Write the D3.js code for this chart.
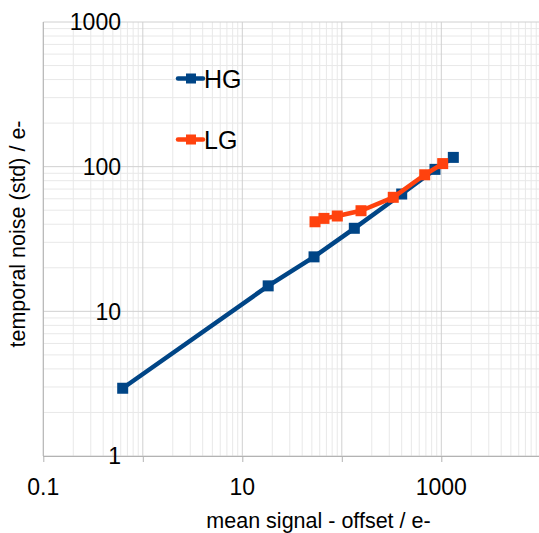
<!DOCTYPE html>
<html>
<head>
<meta charset="utf-8">
<script src="https://cdn.jsdelivr.net/npm/d3@7"></script>
<style>
  html, body { margin: 0; padding: 0; background: #ffffff; }
  svg { display: block; }
  text { font-family: "Liberation Sans", Arial, sans-serif; fill: #000; }
</style>
</head>
<body>
<svg id="chart" width="539" height="533"></svg>
<script>
// ---- data ----
const hgX = [0.628, 18.2, 52.6, 133.6, 400, 864, 1321];
const hgY = [2.94, 15.0, 23.8, 37.5, 64.7, 95.8, 115.9];
const lgX = [53.8, 66.2, 90.1, 156, 329, 681, 1033];
const lgY = [41.6, 43.9, 45.6, 49.6, 61.4, 87.9, 105];
const seriesNames = ["HG", "LG"];
const seriesColors = ["#004586", "#ff420e"];
const xTickLabels = [0.1, 10, 1000];
const yTickLabels = [1, 10, 100, 1000];
const xTitle = "mean signal - offset / e-";
const yTitle = "temporal noise (std) / e-";

(function () {
// ---- layout ----
const W = 539, H = 533;
const pLeft = 43.3, pRight = 540.8, pTop = 22, pBottom = 456;

const svg = d3.select("#chart");
svg.append("rect").attr("width", W).attr("height", H).attr("fill", "#fff");

const x = d3.scaleLog().domain([0.1, 10000]).range([pLeft, pRight]);
const y = d3.scaleLog().domain([1, 1000]).range([pBottom, pTop]);

// gridlines
const minorX = [], majorX = [];
for (let e = -1; e <= 4; e++) {
  majorX.push(Math.pow(10, e));
  if (e < 4) for (let m = 2; m <= 9; m++) minorX.push(m * Math.pow(10, e));
}
const minorY = [], majorY = [];
for (let e = 0; e <= 3; e++) {
  majorY.push(Math.pow(10, e));
  if (e < 3) for (let m = 2; m <= 9; m++) minorY.push(m * Math.pow(10, e));
}
const grid = svg.append("g");
grid.selectAll(".mx").data(minorX).enter().append("line")
  .attr("x1", d => x(d)).attr("x2", d => x(d)).attr("y1", pTop).attr("y2", pBottom)
  .attr("stroke", "#e8e8e8").attr("stroke-width", 1);
grid.selectAll(".my").data(minorY).enter().append("line")
  .attr("x1", pLeft).attr("x2", pRight).attr("y1", d => y(d)).attr("y2", d => y(d))
  .attr("stroke", "#e8e8e8").attr("stroke-width", 1);
grid.selectAll(".Mx").data(majorX).enter().append("line")
  .attr("x1", d => x(d)).attr("x2", d => x(d)).attr("y1", pTop).attr("y2", pBottom)
  .attr("stroke", "#d0d0d0").attr("stroke-width", 1);
grid.selectAll(".My").data(majorY).enter().append("line")
  .attr("x1", pLeft).attr("x2", pRight).attr("y1", d => y(d)).attr("y2", d => y(d))
  .attr("stroke", "#d0d0d0").attr("stroke-width", 1);

// axes
const xAxis = d3.axisBottom(x).tickValues(majorX).tickSize(6).tickFormat("");
const gx = svg.append("g").attr("transform", `translate(0,${pBottom})`).call(xAxis);
gx.selectAll("path, line").attr("stroke", "#b3b3b3");
gx.select(".domain").attr("d", `M${pLeft},0.5H${pRight}`);

svg.append("line").attr("x1", pLeft).attr("x2", pLeft).attr("y1", pTop).attr("y2", pBottom)
  .attr("stroke", "#b3b3b3");

// tick labels
svg.append("g").selectAll("text").data(xTickLabels).enter().append("text")
  .attr("x", d => x(d)).attr("y", 495).attr("text-anchor", "middle")
  .attr("font-size", 23).text(d => d3.format("")(d));
svg.append("g").selectAll("text").data(yTickLabels).enter().append("text")
  .attr("x", 121).attr("y", d => y(d)).attr("dy", "0.36em").attr("text-anchor", "end")
  .attr("font-size", 23).text(d => d3.format("")(d));

// titles
svg.append("text").attr("x", 318.5).attr("y", 528).attr("text-anchor", "middle")
  .attr("font-size", 21.5).text(xTitle);
svg.append("text").attr("transform", "translate(25,234) rotate(-90)")
  .attr("text-anchor", "middle").attr("font-size", 21.5).text(yTitle);

// series
const series = [
  { name: seriesNames[0], color: seriesColors[0], pts: hgX.map((v, i) => [v, hgY[i]]) },
  { name: seriesNames[1], color: seriesColors[1], pts: lgX.map((v, i) => [v, lgY[i]]) }
];
const line = d3.line().x(d => x(d[0])).y(d => y(d[1]));
const ms = 11;
series.forEach(s => {
  const g = svg.append("g");
  g.append("path").attr("d", line(s.pts)).attr("fill", "none")
    .attr("stroke", s.color).attr("stroke-width", 4.5).attr("stroke-linejoin", "round");
  g.selectAll("rect").data(s.pts).enter().append("rect")
    .attr("x", d => x(d[0]) - ms / 2).attr("y", d => y(d[1]) - ms / 2)
    .attr("width", ms).attr("height", ms).attr("fill", s.color);
});

// legend
const legY = [78.5, 139.5];
series.forEach((s, i) => {
  const g = svg.append("g").attr("transform", `translate(0,${legY[i]})`);
  g.append("line").attr("x1", 178).attr("x2", 203).attr("y1", 0).attr("y2", 0)
    .attr("stroke", s.color).attr("stroke-width", 4.5).attr("stroke-linecap", "round");
  g.append("rect").attr("x", 186).attr("y", -5).attr("width", 10).attr("height", 10).attr("fill", s.color);
  g.append("text").attr("x", 204).attr("y", 9.5).attr("font-size", 25).text(s.name);
});
})();
</script>
</body>
</html>
